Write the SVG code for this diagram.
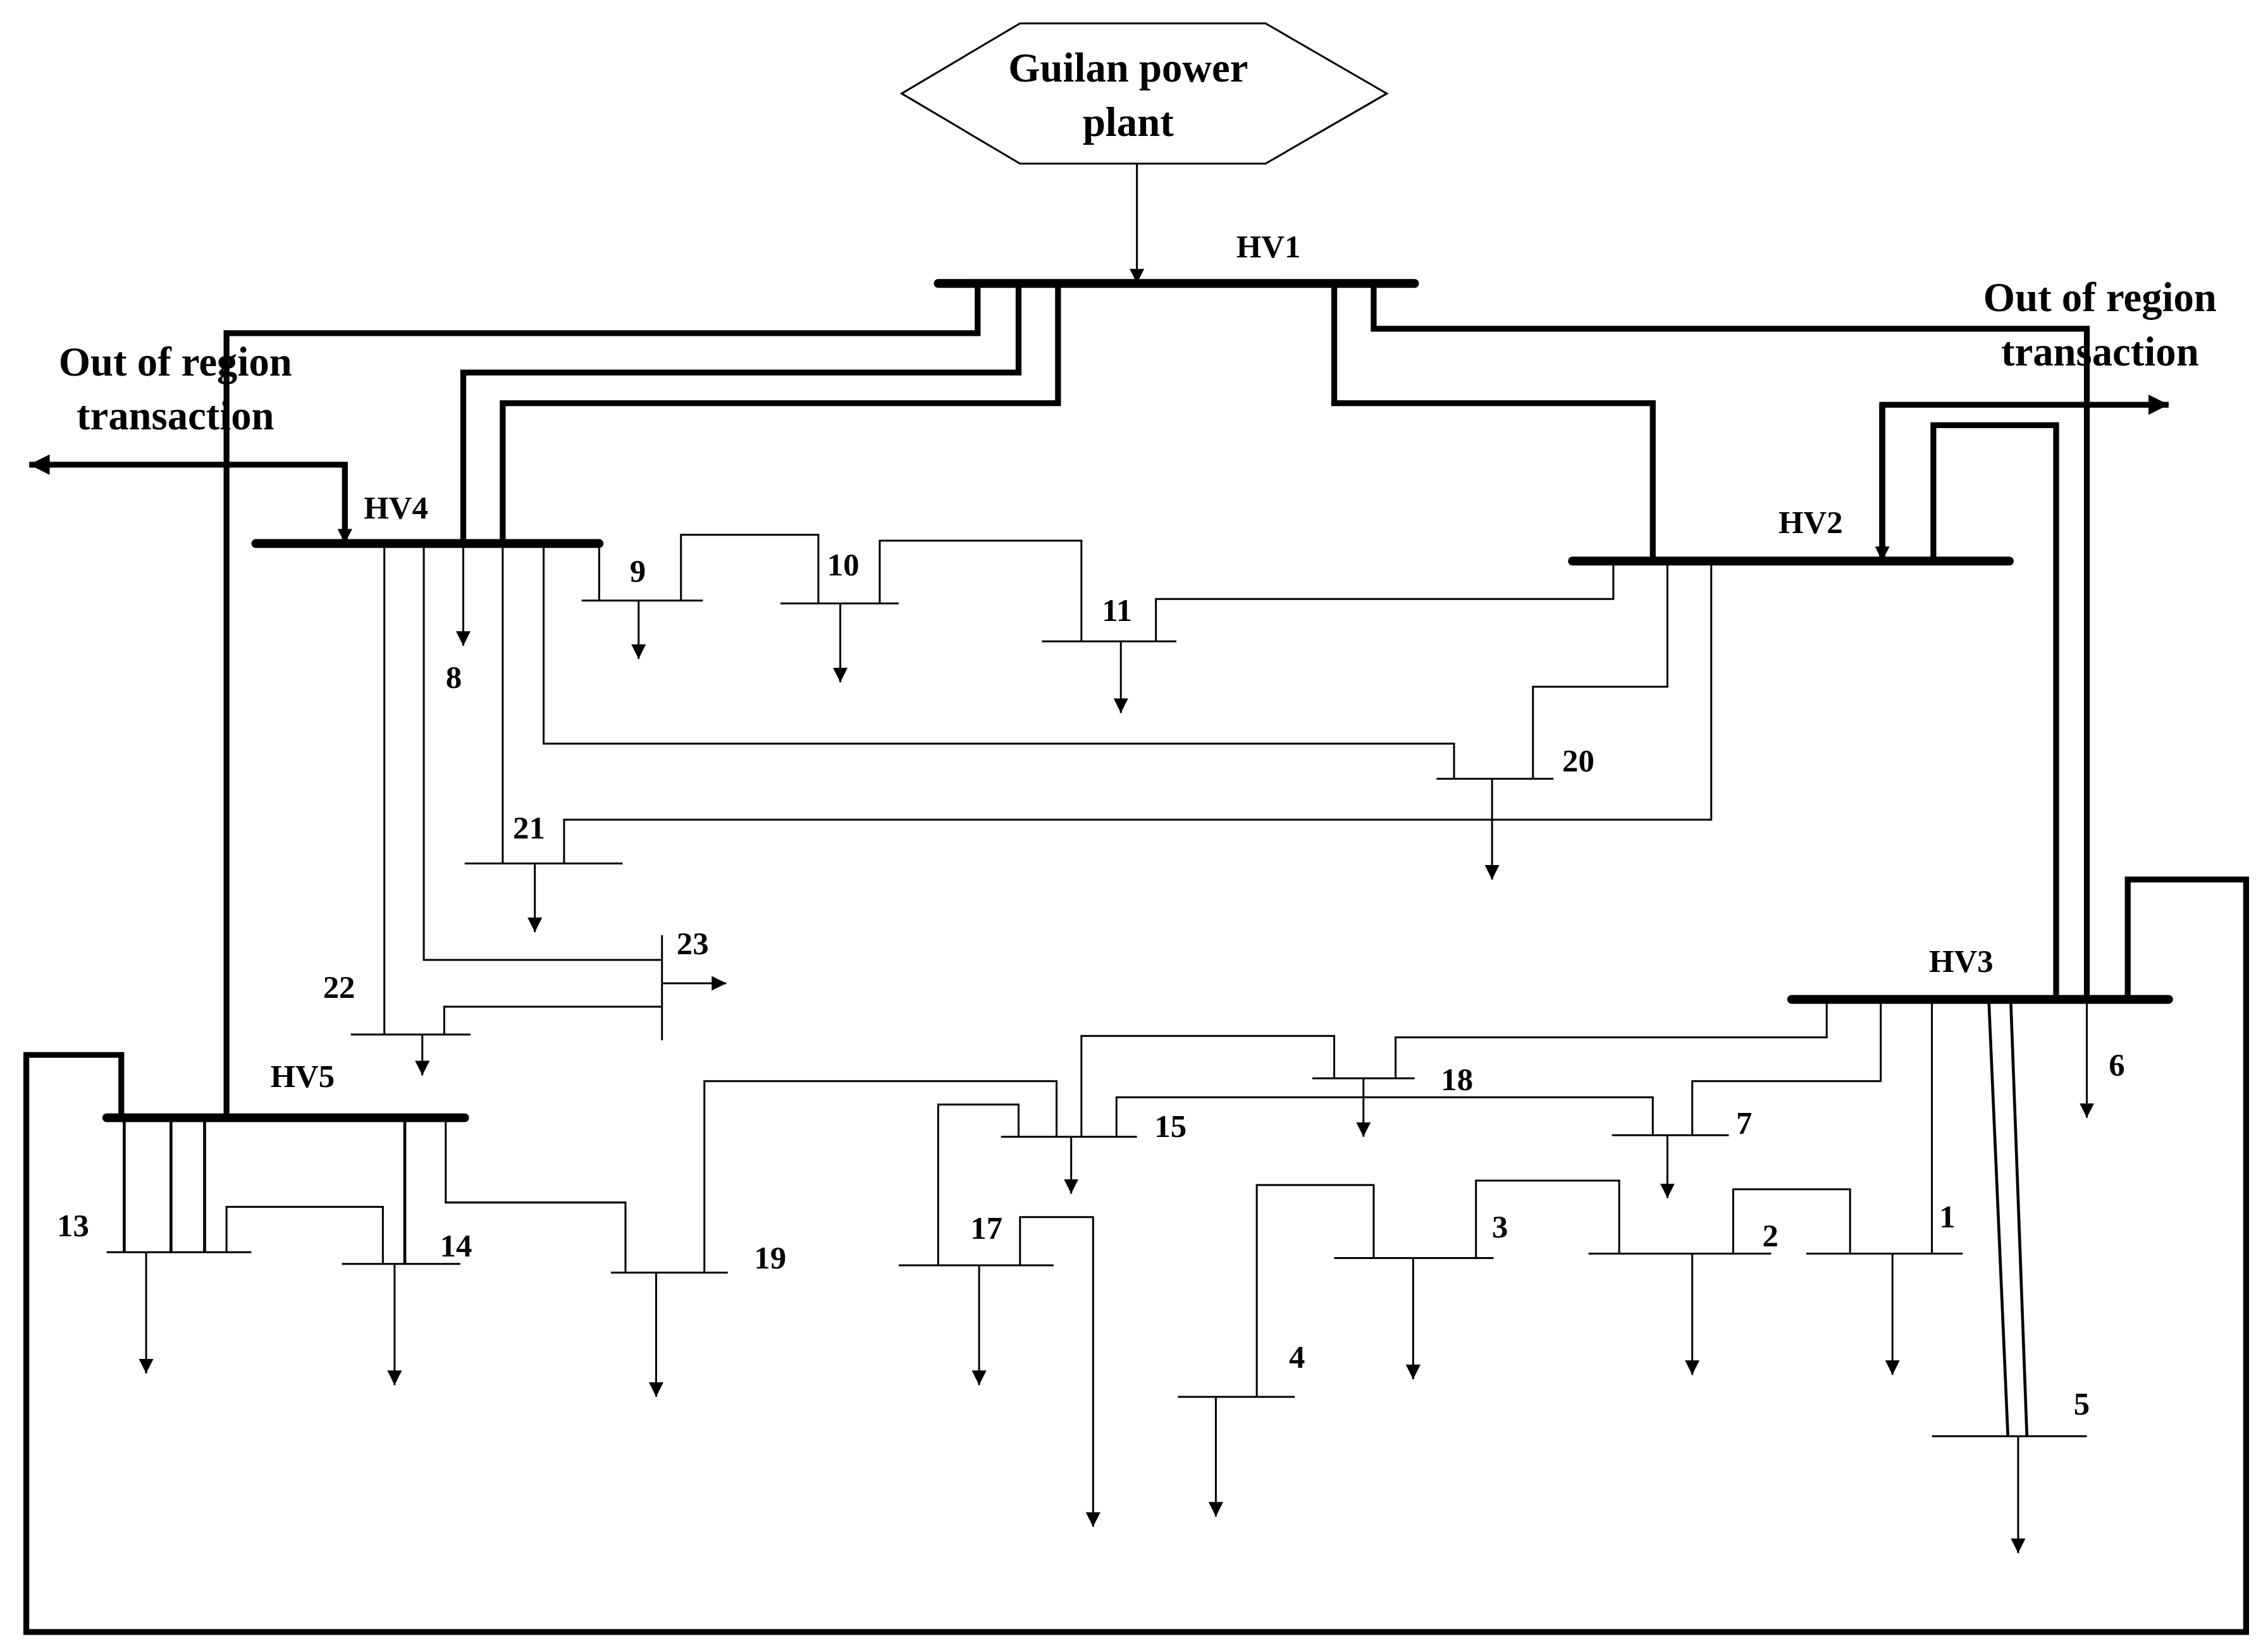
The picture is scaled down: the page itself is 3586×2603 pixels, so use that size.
<svg xmlns="http://www.w3.org/2000/svg" width="3586" height="2603" viewBox="0 0 3586 2603">
<defs>
<marker id="ah" viewBox="0 0 10 10" refX="10" refY="5" markerWidth="10" markerHeight="10" markerUnits="userSpaceOnUse" orient="auto"><path d="M0,0 L10,5 L0,10 z" fill="#000"/></marker>
<marker id="ahb" viewBox="0 0 10 10" refX="10" refY="5" markerWidth="14" markerHeight="14" markerUnits="userSpaceOnUse" orient="auto"><path d="M0,0 L10,5 L0,10 z" fill="#000"/></marker>
<style>
.t{fill:none;stroke:#000;stroke-width:1.3}
.m{fill:none;stroke:#000;stroke-width:2}
.k{fill:none;stroke:#000;stroke-width:4}
.b{fill:none;stroke:#000;stroke-width:6;stroke-linecap:round}
.a{marker-end:url(#ah)}
.ab{marker-end:url(#ahb)}
text{font-family:"Liberation Serif","DejaVu Serif",serif;font-weight:bold;font-size:22px;fill:#000}
.big{font-size:28px;text-anchor:middle}
</style>
</defs>
<rect width="3586" height="2603" fill="#fff"/>
<g transform="scale(2.3106)">
<g id="plant"><polygon class="t" points="617,64 698,16 866,16 949,64 866,112 698,112"/><text class="big" x="772" y="56">Guilan power</text><text class="big" x="772" y="93">plant</text></g>
<g id="labels">
<text class="big" x="120" y="257">Out of region</text><text class="big" x="120" y="294">transaction</text>
<text class="big" x="1437" y="213">Out of region</text><text class="big" x="1437" y="250">transaction</text>
</g>
<g id="buses">
<g id="HV1"><line class="b" x1="642" y1="194" x2="968" y2="194"/><text x="846" y="176" font-size="25">HV1</text></g>
<g id="HV2"><line class="b" x1="1076" y1="384" x2="1375" y2="384"/><text x="1217" y="365" font-size="25">HV2</text></g>
<g id="HV3"><line class="b" x1="1226" y1="684" x2="1484" y2="684"/><text x="1320" y="665" font-size="25">HV3</text></g>
<g id="HV4"><line class="b" x1="175" y1="372" x2="410" y2="372"/><text x="249" y="355" font-size="25">HV4</text></g>
<g id="HV5"><line class="b" x1="73" y1="765" x2="318" y2="765"/><text x="185" y="744" font-size="25">HV5</text></g>
<g id="b1"><line class="t" x1="1236" y1="858" x2="1343" y2="858"/><text x="1327" y="840">1</text></g>
<g id="b2"><line class="t" x1="1087" y1="858" x2="1212" y2="858"/><text x="1206" y="853">2</text></g>
<g id="b3"><line class="t" x1="913" y1="861" x2="1022" y2="861"/><text x="1021" y="847">3</text></g>
<g id="b4"><line class="t" x1="806" y1="956" x2="886" y2="956"/><text x="882" y="936">4</text></g>
<g id="b5"><line class="t" x1="1322" y1="983" x2="1428" y2="983"/><text x="1419" y="968">5</text></g>
<g id="b6"><text x="1443" y="736">6</text></g>
<g id="b7"><line class="t" x1="1103" y1="777" x2="1183" y2="777"/><text x="1188" y="776">7</text></g>
<g id="b8"><text x="305" y="471">8</text></g>
<g id="b9"><line class="t" x1="398" y1="411" x2="481" y2="411"/><text x="431" y="398">9</text></g>
<g id="b10"><line class="t" x1="534" y1="413" x2="615" y2="413"/><text x="566" y="394">10</text></g>
<g id="b11"><line class="t" x1="713" y1="439" x2="805" y2="439"/><text x="754" y="425">11</text></g>
<g id="b13"><line class="t" x1="73" y1="857" x2="172" y2="857"/><text x="39" y="846">13</text></g>
<g id="b14"><line class="t" x1="234" y1="865" x2="315" y2="865"/><text x="301" y="860">14</text></g>
<g id="b15"><line class="t" x1="685" y1="778" x2="778" y2="778"/><text x="790" y="778">15</text></g>
<g id="b17"><line class="t" x1="615" y1="866" x2="721" y2="866"/><text x="664" y="848">17</text></g>
<g id="b18"><line class="t" x1="898" y1="738" x2="968" y2="738"/><text x="986" y="746">18</text></g>
<g id="b19"><line class="t" x1="418" y1="871" x2="498" y2="871"/><text x="516" y="868">19</text></g>
<g id="b20"><line class="t" x1="983" y1="533" x2="1063" y2="533"/><text x="1069" y="528">20</text></g>
<g id="b21"><line class="t" x1="318" y1="591" x2="426" y2="591"/><text x="351" y="574">21</text></g>
<g id="b22"><line class="t" x1="240" y1="708" x2="322" y2="708"/><text x="221" y="683">22</text></g>
<g id="b23"><line class="t" x1="453" y1="640" x2="453" y2="712"/><text x="463" y="653">23</text></g>
</g>
<g id="connectors">
<path class="t a" d="M778,112 V194"/>
<path class="k" d="M669,194 V228 H155 V765"/>
<path class="k" d="M697,194 V255 H317 V372"/>
<path class="t a" d="M317,372 V442"/>
<path class="k" d="M724,194 V276 H344 V372"/>
<path class="k" d="M913,194 V276 H1131 V384"/>
<path class="k" d="M940,194 V225 H1428 V684"/>
<path class="t a" d="M1428,684 V765"/>
<path class="k ab" d="M236,372 V318 H20"/>
<path class="t a" d="M236,340 V372"/>
<path class="k ab" d="M1288,384 V277 H1484"/>
<path class="t" d="M1288,360 V384"/>
<path class="k a" d="M1288,277 V384"/>
<path class="k" d="M1323,384 V291 H1407 V684"/>
<path class="k" d="M1456,684 V602 H1537 V1117 H18 V722 H83 V765"/>
<path class="t" d="M263,372 V708"/>
<path class="t a" d="M289,708 V736"/>
<path class="t" d="M290,372 V657 H453"/>
<path class="t a" d="M453,673 H497"/>
<path class="t" d="M304,708 V689 H453"/>
<path class="t" d="M344,372 V591"/>
<path class="t a" d="M366,591 V638"/>
<path class="t" d="M372,372 V509 H995 V533"/>
<path class="t a" d="M1021,533 V602"/>
<path class="t" d="M410,372 V411"/>
<path class="t a" d="M437,411 V451"/>
<path class="t" d="M466,411 V366 H560 V413"/>
<path class="t a" d="M575,413 V467"/>
<path class="t" d="M602,413 V370 H740 V439"/>
<path class="t a" d="M767,439 V488"/>
<path class="t" d="M791,439 V410 H1104 V384"/>
<path class="t" d="M1141,384 V470 H1049 V533"/>
<path class="t" d="M1171,384 V561 H386 V591"/>
<path class="t" d="M1250,684 V710 H955 V738"/>
<path class="t a" d="M933,738 V778"/>
<path class="t" d="M913,738 V709 H740 V778"/>
<path class="t a" d="M733,778 V817"/>
<path class="t" d="M1287,684 V740 H1158 V777"/>
<path class="t a" d="M1141,777 V820"/>
<path class="t" d="M764,778 V751 H1131 V777"/>
<path class="t" d="M1322,684 V858"/>
<path class="t a" d="M1295,858 V941"/>
<path class="t" d="M1266,858 V814 H1186 V858"/>
<path class="t a" d="M1158,858 V941"/>
<path class="t" d="M1108,858 V808 H1010 V861"/>
<path class="t a" d="M967,861 V944"/>
<path class="t" d="M940,861 V811 H860 V956"/>
<path class="t a" d="M832,956 V1038"/>
<path class="m" d="M1361,686 L1374,983"/>
<path class="m" d="M1376,686 L1387,983"/>
<path class="t a" d="M1381,983 V1063"/>
<path class="m" d="M85,765 V857 M117,765 V857 M140,765 V857"/>
<path class="t a" d="M100,857 V940"/>
<path class="t" d="M155,857 V826 H262 V865"/>
<path class="m" d="M277,765 V865"/>
<path class="t a" d="M270,865 V948"/>
<path class="t" d="M305,765 V823 H428 V871"/>
<path class="t a" d="M449,871 V956"/>
<path class="t" d="M482,871 V740 H723 V778"/>
<path class="t" d="M642,866 V756 H697 V778"/>
<path class="t a" d="M670,866 V948"/>
<path class="t a" d="M698,866 V833 H748 V1045"/>
</g>
</g>
</svg>
